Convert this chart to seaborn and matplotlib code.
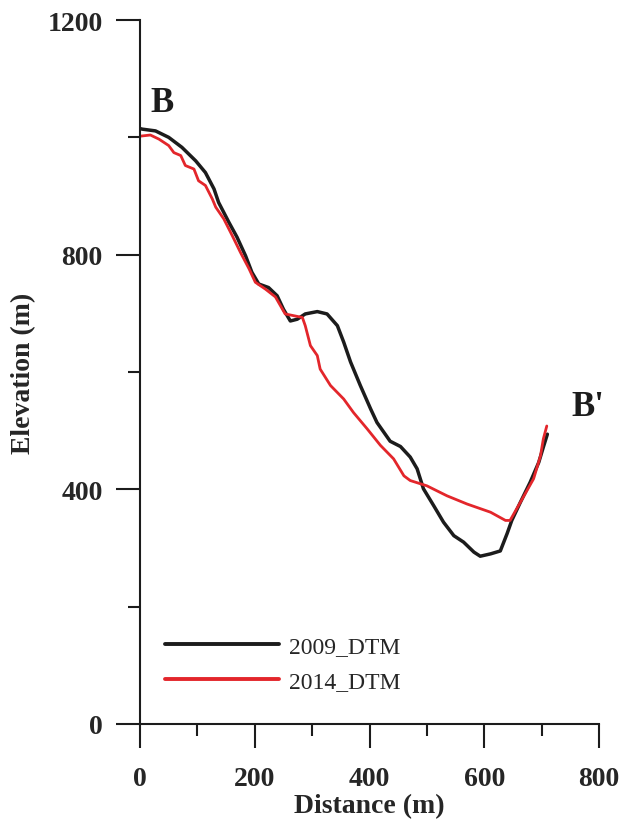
import pandas as pd
import seaborn as sns
from matplotlib import pyplot as plt
from matplotlib.ticker import MultipleLocator

# profile 2009 (distance m, elevation m)
dist_2009 = [0, 4, 27, 50, 73, 97, 114, 129, 137, 155, 169, 184, 195, 207, 224, 239, 250, 262,
             274, 288, 309, 326, 344, 355, 367, 384, 402, 413, 436, 454, 471, 483, 494, 512,
             529, 547, 564, 582, 593, 611, 628, 640, 648, 663, 680, 695, 703, 710]
elev_2009 = [1015, 1014, 1011, 1000, 983, 960, 940, 912, 889, 855, 830, 798, 770, 750, 744, 730, 707, 687,
             690, 699, 703, 699, 679, 651, 617, 577, 537, 514, 482, 473, 455, 435, 401, 372,
             344, 321, 310, 293, 286, 290, 295, 325, 347, 378, 412, 446, 472, 494]

# profile 2014
dist_2014 = [0, 18, 33, 50, 59, 71, 79, 94, 102, 114, 126, 132, 146, 161, 175, 190, 201, 219,
             236, 253, 268, 283, 288, 297, 309, 314, 332, 355, 372, 396, 419, 442, 460, 471,
             500, 535, 570, 611, 637, 645, 663, 686, 698, 703, 709]
elev_2014 = [1002, 1004, 997, 986, 974, 969, 952, 946, 926, 918, 895, 881, 861, 832, 804, 776, 753, 741,
             728, 699, 696, 693, 679, 645, 628, 605, 577, 554, 531, 503, 475, 452, 423, 415,
             406, 389, 375, 361, 347, 347, 378, 418, 457, 486, 508]

labels = ['2009_DTM', '2014_DTM']
colors = ['#1c1c1c', '#e3262b']

df = pd.concat([
    pd.DataFrame({'dist': dist_2009, 'elev': elev_2009, 'dtm': labels[0]}),
    pd.DataFrame({'dist': dist_2014, 'elev': elev_2014, 'dtm': labels[1]}),
])

sns.set_style('ticks')
plt.rcParams['font.family'] = ['Liberation Serif', 'DejaVu Serif']

fig = plt.figure(figsize=(6.35, 8.28), dpi=100)
ax = fig.add_axes([0.2205, 0.1244, 0.7228, 0.8502])

sns.lineplot(data=df, x='dist', y='elev', hue='dtm', palette=colors, estimator=None,
             sort=False, ax=ax, linewidth=2.5)
ax.lines[1].set_linewidth(2.0)

ax.set_xlim(0, 800)
ax.set_ylim(0, 1200)
ax.xaxis.set_major_locator(MultipleLocator(200))
ax.xaxis.set_minor_locator(MultipleLocator(100))
ax.yaxis.set_major_locator(MultipleLocator(400))
ax.yaxis.set_minor_locator(MultipleLocator(200))
sns.despine(ax=ax)
for s in ['left', 'bottom']:
    ax.spines[s].set_linewidth(1.5)
    ax.spines[s].set_color('#1c1c1c')
ax.tick_params(which='major', length=17, width=1.5, color='#1c1c1c', labelsize=20, pad=10)
ax.tick_params(axis='x', which='major', pad=13)
ax.tick_params(which='minor', length=8.6, width=1.5, color='#1c1c1c')
for lab in ax.get_xticklabels() + ax.get_yticklabels():
    lab.set_fontweight('bold')

ax.set_xlabel('Distance (m)', fontsize=20, fontweight='bold', labelpad=2)
ax.set_ylabel('Elevation (m)', fontsize=20, fontweight='bold', labelpad=8)

ax.text(39, 1060, 'B', fontsize=25, fontweight='bold', ha='center', va='center', color='#1c1c1c')
ax.text(781, 542, "B'", fontsize=25, fontweight='bold', ha='center', va='center', color='#1c1c1c',
        clip_on=False)

leg = ax.legend(loc='upper left', bbox_to_anchor=(0.055, 0.125), frameon=False, fontsize=17,
                handlelength=4.8, handletextpad=0.45, labelspacing=0.55, borderpad=0, borderaxespad=0)
for h in leg.get_lines():
    h.set_linewidth(2.8)

fig.savefig('out.png', dpi=100)
